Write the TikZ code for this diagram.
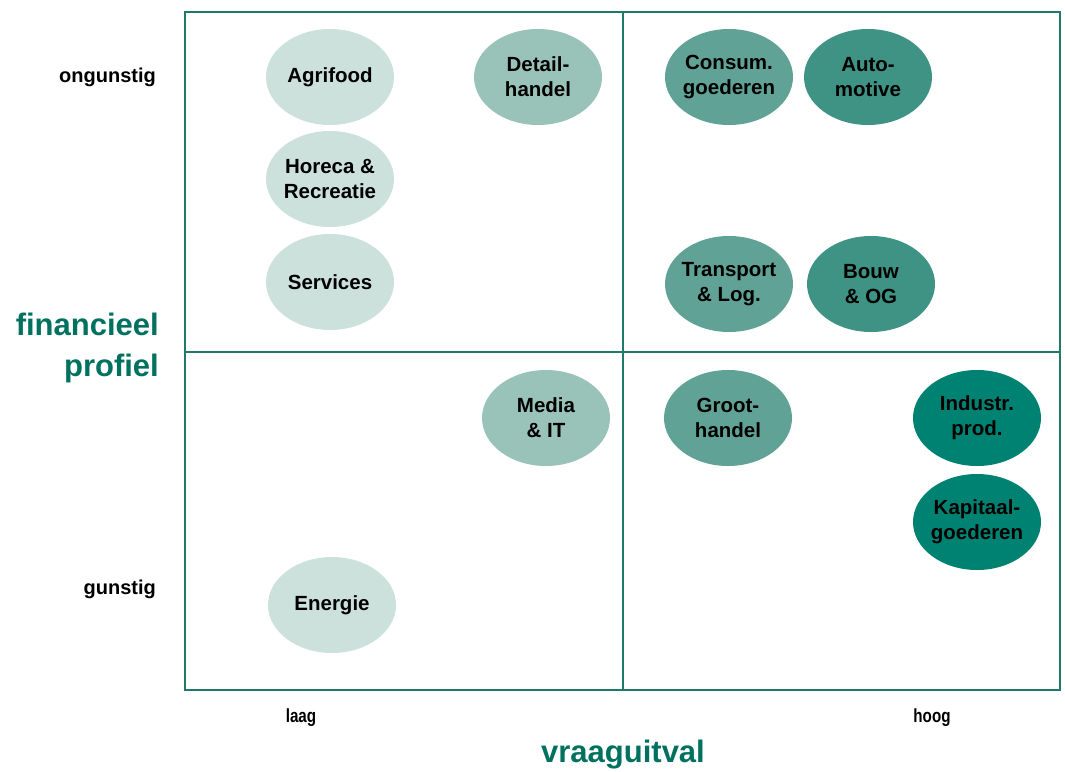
\documentclass[tikz,border=0pt]{standalone}
\usepackage{fontspec}
\setmainfont{Liberation Sans}
\usetikzlibrary{shapes.geometric}
\definecolor{lineteal}{HTML}{1F7A6B}
\definecolor{textteal}{HTML}{00705F}
\definecolor{c1}{HTML}{CDE1DC}
\definecolor{c2}{HTML}{99C2B8}
\definecolor{c3}{HTML}{60A396}
\definecolor{c4}{HTML}{3F9385}
\definecolor{c5}{HTML}{008272}
\tikzset{
  sector/.style={ellipse, minimum width=128pt, minimum height=96pt, inner xsep=-14pt, inner ysep=-8pt,
    align=center, font=\fontsize{20.5}{25}\selectfont\bfseries, text=black},
  axislbl/.style={font=\fontsize{20}{24}\selectfont\bfseries, text=black, inner sep=0pt},
  endlbl/.style={font=\fontsize{19}{22}\selectfont\bfseries, text=black, inner sep=0pt},
  axistitle/.style={font=\fontsize{31}{41}\selectfont\bfseries, text=textteal, inner sep=0pt},
  gridline/.style={draw=lineteal, line width=1.6pt}
}
\begin{document}
\begin{tikzpicture}[x=1pt,y=-1pt]
\useasboundingbox (0,0) rectangle (1065,771);
% frame
\coordinate (tl) at (185,12);
\coordinate (br) at (1060,690);
\coordinate (mt) at (623,12);
\coordinate (mb) at (623,690);
\coordinate (ml) at (185,352);
\coordinate (mr) at (1060,352);
\draw[gridline] (tl) rectangle (br);
\draw[gridline] (mt) -- (mb);
\draw[gridline] (ml) -- (mr);
% sectors
\node[sector, fill=c1] (agri) at (330,77) {Agrifood};
\node[sector, fill=c2] (detail) at (538,77) {Detail-\\handel};
\node[sector, fill=c3] (consum) at (729,77) {Consum.\\goederen};
\node[sector, fill=c4] (auto) at (868,77) {Auto-\\motive};
\node[sector, fill=c1] (horeca) at (330,179) {Horeca \&\\Recreatie};
\node[sector, fill=c1] (services) at (330,282) {Services};
\node[sector, fill=c3] (transport) at (729,284) {Transport\\\& Log.};
\node[sector, fill=c4] (bouw) at (871,284) {Bouw\\\& OG};
\node[sector, fill=c2] (media) at (546,418) {Media\\\& IT};
\node[sector, fill=c3] (groot) at (728,418) {Groot-\\handel};
\node[sector, fill=c5] (industr) at (977,418) {Industr.\\prod.};
\node[sector, fill=c5] (kapitaal) at (977,522) {Kapitaal-\\goederen};
\node[sector, fill=c1] (energie) at (332,605) {Energie};
% axis labels
\node[axislbl, anchor=east] (ongunstig) at (156,77) {ongunstig};
\node[axislbl, anchor=east] (gunstig) at (156,589) {gunstig};
\node[endlbl] (laag) at (301,718) {\scalebox{0.8}[1]{laag}};
\node[endlbl] (hoog) at (932,718) {\scalebox{0.8}[1]{hoog}};
\node[axistitle, anchor=east, align=right] (fin) at (159,348) {financieel\\profiel};
\node[axistitle] (vraag) at (623,755) {vraaguitval};
\end{tikzpicture}
\end{document}
